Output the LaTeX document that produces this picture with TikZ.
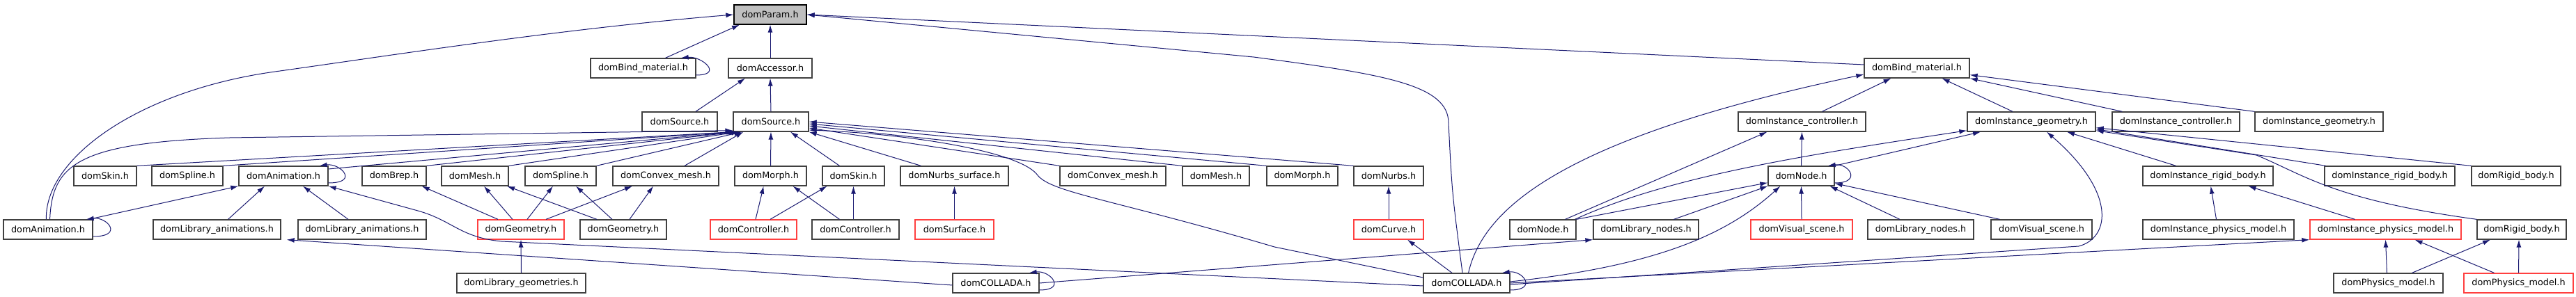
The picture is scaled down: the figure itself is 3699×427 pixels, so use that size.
\documentclass[tikz,border=0pt]{standalone}
\usepackage{fontspec}
\setmainfont{DejaVu Sans}
\usetikzlibrary{arrows.meta}
\definecolor{edgeblue}{HTML}{191970}
\definecolor{boxgray}{HTML}{404040}
\definecolor{boxred}{HTML}{FF4040}
\definecolor{rootgray}{HTML}{BFBFBF}
\tikzset{
  header/.style={draw=boxgray, line width=1.3pt, minimum height=28pt, inner sep=0pt, font=\fontsize{12.8}{15}\selectfont},
  redheader/.style={header, draw=boxred},
  rootheader/.style={header, draw=black, fill=rootgray},
  incl/.style={draw=edgeblue, line width=1pt, -{Latex[length=11pt, width=7pt]}},
}
\begin{document}
\begin{tikzpicture}[x=1pt, y=1pt]
  \useasboundingbox (0,0) rectangle (3699,427);
  % row 0
  \node[rootheader, minimum width=104pt] (param) at (1106,406) {domParam.h};
  % row 1
  \node[header, minimum width=151pt] (bindL) at (923.5,329) {domBind\_material.h};
  \node[header, minimum width=120pt] (access) at (1106,329) {domAccessor.h};
  \node[header, minimum width=151pt] (bindR) at (2752.5,329) {domBind\_material.h};
  % row 2
  \node[header, minimum width=108pt] (srcA) at (976,252) {domSource.h};
  \node[header, minimum width=108pt] (srcB) at (1107,252) {domSource.h};
  \node[header, minimum width=183pt] (ictrlA) at (2587.5,252) {domInstance\_controller.h};
  \node[header, minimum width=184pt] (igeoA) at (2917,252) {domInstance\_geometry.h};
  \node[header, minimum width=183pt] (ictrlB) at (3124.5,252) {domInstance\_controller.h};
  \node[header, minimum width=184pt] (igeoB) at (3330,252) {domInstance\_geometry.h};
  % row 3
  \node[header, minimum width=90pt] (skinA) at (151,174) {domSkin.h};
  \node[header, minimum width=102pt] (splineA) at (269,174) {domSpline.h};
  \node[header, minimum width=128pt] (animA) at (407,174) {domAnimation.h};
  \node[header, minimum width=92pt] (brep) at (566,174) {domBrep.h};
  \node[header, minimum width=96pt] (meshA) at (682,174) {domMesh.h};
  \node[header, minimum width=102pt] (splineB) at (805,174) {domSpline.h};
  \node[header, minimum width=152pt] (cvxA) at (956,174) {domConvex\_mesh.h};
  \node[header, minimum width=103pt] (morphA) at (1106.5,174) {domMorph.h};
  \node[header, minimum width=89pt] (skinB) at (1225.5,174) {domSkin.h};
  \node[header, minimum width=155pt] (nsurf) at (1370.5,174) {domNurbs\_surface.h};
  \node[header, minimum width=152pt] (cvxB) at (1598,174) {domConvex\_mesh.h};
  \node[header, minimum width=96pt] (meshB) at (1746,174) {domMesh.h};
  \node[header, minimum width=102pt] (morphB) at (1870,174) {domMorph.h};
  \node[header, minimum width=100pt] (nurbs) at (1994,174) {domNurbs.h};
  \node[header, minimum width=95pt] (nodeA) at (2586.5,174) {domNode.h};
  \node[header, minimum width=187pt] (irbA) at (3170.5,174) {domInstance\_rigid\_body.h};
  \node[header, minimum width=187pt] (irbB) at (3431.5,174) {domInstance\_rigid\_body.h};
  \node[header, minimum width=128pt] (rbA) at (3613,174) {domRigid\_body.h};
  % row 4
  \node[header, minimum width=128pt] (animB) at (69,97) {domAnimation.h};
  \node[header, minimum width=183pt] (libanA) at (311.5,97) {domLibrary\_animations.h};
  \node[header, minimum width=184pt] (libanB) at (520,97) {domLibrary\_animations.h};
  \node[redheader, minimum width=124pt] (geoA) at (748,97) {domGeometry.h};
  \node[header, minimum width=124pt] (geoB) at (895,97) {domGeometry.h};
  \node[redheader, minimum width=124pt] (ctrlA) at (1082,97) {domController.h};
  \node[header, minimum width=125pt] (ctrlB) at (1228.5,97) {domController.h};
  \node[redheader, minimum width=113pt] (surf) at (1370.5,97) {domSurface.h};
  \node[redheader, minimum width=100pt] (curve) at (1994,97) {domCurve.h};
  \node[header, minimum width=95pt] (nodeB) at (2215.5,97) {domNode.h};
  \node[header, minimum width=151pt] (libndA) at (2363.5,97) {domLibrary\_nodes.h};
  \node[redheader, minimum width=146pt] (visA) at (2587,97) {domVisual\_scene.h};
  \node[header, minimum width=152pt] (libndB) at (2758,97) {domLibrary\_nodes.h};
  \node[header, minimum width=145pt] (visB) at (2931.5,97) {domVisual\_scene.h};
  \node[header, minimum width=217pt] (ipmA) at (3185.5,97) {domInstance\_physics\_model.h};
  \node[redheader, minimum width=217pt] (ipmB) at (3425.5,97) {domInstance\_physics\_model.h};
  \node[header, minimum width=128pt] (rbB) at (3621,97) {domRigid\_body.h};
  % row 5
  \node[header, minimum width=185pt] (libgeo) at (748.5,20) {domLibrary\_geometries.h};
  \node[header, minimum width=124pt] (colA) at (1430,20) {domCOLLADA.h};
  \node[header, minimum width=124pt] (colB) at (2106,20) {domCOLLADA.h};
  \node[header, minimum width=157pt] (physA) at (3429.5,20) {domPhysics\_model.h};
  \node[redheader, minimum width=157pt] (physB) at (3616.5,20) {domPhysics\_model.h};

  % into domParam.h
  \draw[incl] ([xshift=32pt]bindL.north) -- ([xshift=-44pt]param.south);
  \draw[incl] (access.north) -- (param.south);
  \draw[incl] (animB.100) .. controls (64,200) and (200,297) .. (395,324) .. controls (560,347) and (800,385) .. (param.west);
  \draw[incl] ([yshift=5pt]bindR.west) -- (param.east);
  \draw[incl] ([xshift=-6pt]colB.north) .. controls (2085,150) .. (2080,250) .. controls (2080,305) and (1990,320) .. (1800,345) -- (param.east);
  \draw[incl] ([yshift=-10pt]bindL.east) .. controls +(40,0) and +(30,3) .. ([xshift=-22pt]bindL.north east);
  % into domAccessor.h
  \draw[incl] ([xshift=23pt]srcA.north) -- ([xshift=-36pt]access.south);
  \draw[incl] (srcB.north) -- (access.south);
  % into domSource.h
  \draw[incl] (animB.80) .. controls (75,190) and (110,222) .. (330,229) -- ([yshift=2pt]srcB.south west);
  \draw[incl] (skinA.north east) -- ([xshift=1pt]srcB.south west);
  \draw[incl] (splineA.north east) -- ([xshift=3pt]srcB.south west);
  \draw[incl] ([yshift=10pt]animA.east) -- ([xshift=5pt]srcB.south west);
  \draw[incl] (brep.north east) -- ([xshift=7pt]srcB.south west);
  \draw[incl] (meshA.north east) -- ([xshift=9pt]srcB.south west);
  \draw[incl] (splineB.north east) -- ([xshift=13pt]srcB.south west);
  \draw[incl] ([xshift=27pt]cvxA.north) -- ([xshift=15pt]srcB.south west);
  \draw[incl] (morphA.north) -- (srcB.south);
  \draw[incl] ([xshift=-20pt]skinB.north) -- ([xshift=28pt]srcB.south);
  \draw[incl] ([xshift=-48pt]nsurf.north) -- (srcB.south east);
  \draw[incl] (cvxB.north west) -- ([yshift=-9pt]srcB.east);
  \draw[incl] (meshB.north west) -- ([yshift=-6pt]srcB.east);
  \draw[incl] (morphB.north west) -- ([yshift=-3pt]srcB.east);
  \draw[incl] (nurbs.north west) -- (srcB.east);
  \draw[incl] ([yshift=8pt]colB.west) -- (1830,72) .. controls (1600,140) and (1510,150) .. (1490,175) .. controls (1465,210) and (1300,235) .. ([yshift=-12pt]srcB.east);
  % into domAnimation.h
  \draw[incl] ([yshift=-10pt]animA.east) .. controls +(45,0) and +(30,4) .. ([xshift=-13pt]animA.north east);
  \draw[incl] ([yshift=-10pt]animB.east) .. controls +(45,0) and +(30,4) .. ([xshift=-10pt]animB.north east);
  \draw[incl] ([xshift=-6pt]animB.north east) -- (animA.south west);
  \draw[incl] ([xshift=16pt]libanA.north) -- ([xshift=-27pt]animA.south);
  \draw[incl] ([xshift=-20pt]libanB.north) -- ([xshift=28pt]animA.south);
  \draw[incl] ([yshift=-4pt]colB.west) -- (720,80) .. controls (660,86) and (650,110) .. (600,124) -- (animA.south east);
  % domCOLLADA.h (left)
  \draw[incl] ([yshift=-3pt]colA.west) -- ([xshift=8pt]libanA.south east);
  \draw[incl] ([yshift=-10pt]colA.east) .. controls +(40,0) and +(30,4) .. ([xshift=-15pt]colA.north east);
  \draw[incl] (colA.east) -- (libndA.south west);
  % geometry and controller
  \draw[incl] ([xshift=-33pt]geoA.north) -- ([xshift=-7pt]brep.south east);
  \draw[incl] ([xshift=-12pt]geoA.north) -- ([xshift=13pt]meshA.south);
  \draw[incl] ([xshift=9pt]geoA.north) -- ([xshift=-11pt]splineB.south);
  \draw[incl] ([xshift=36pt]geoA.north) -- ([xshift=-48pt]cvxA.south);
  \draw[incl] ([xshift=-38pt]geoB.north) -- ([xshift=46pt]meshA.south);
  \draw[incl] ([xshift=-16pt]geoB.north) -- ([xshift=22pt]splineB.south);
  \draw[incl] ([xshift=9pt]geoB.north) -- ([xshift=-18pt]cvxA.south);
  \draw[incl] (libgeo.north) -- (geoA.south);
  \draw[incl] ([xshift=3pt]ctrlA.north) -- ([xshift=-10pt]morphA.south);
  \draw[incl] ([xshift=24pt]ctrlA.north) -- ([xshift=-38pt]skinB.south);
  \draw[incl] ([xshift=-23pt]ctrlB.north) -- ([xshift=32pt]morphA.south);
  \draw[incl] ([xshift=-3pt]ctrlB.north) -- (skinB.south);
  \draw[incl] (surf.north) -- (nsurf.south);
  \draw[incl] (curve.north) -- (nurbs.south);
  % domCOLLADA.h (right)
  \draw[incl] ([xshift=-21pt]colB.north) -- ([xshift=27pt]curve.south);
  \draw[incl] ([yshift=-10pt]colB.east) .. controls +(40,0) and +(30,4) .. ([xshift=-12pt]colB.north east);
  \draw[incl] (colB.80) .. controls (2130,130) and (2250,230) .. ([yshift=-9pt]bindR.west);
  \draw[incl] ([yshift=2pt]colB.east) .. controls (2380,45) and (2480,90) .. ([xshift=18pt]nodeA.south west);
  \draw[incl] ([yshift=-2pt]colB.east) -- (2985,73) .. controls (3030,85) and (3040,150) .. ([xshift=22pt]igeoA.south);
  \draw[incl] (colB.east) -- (ipmB.south west);
  % into domBind_material.h (right)
  \draw[incl] ([xshift=29pt]ictrlA.north) -- ([xshift=-37pt]bindR.south);
  \draw[incl] ([xshift=-27pt]igeoA.north) -- ([xshift=36pt]bindR.south);
  \draw[incl] ([xshift=15pt]ictrlB.north west) -- (bindR.south east);
  \draw[incl] (igeoB.north west) -- ([yshift=5pt]bindR.south east);
  % domNode.h
  \draw[incl] (nodeA.north) -- (ictrlA.south);
  \draw[incl] (nodeA.north east) -- ([xshift=-73pt]igeoA.south);
  \draw[incl] ([yshift=-10pt]nodeA.east) .. controls +(40,0) and +(30,4) .. ([xshift=-10pt]nodeA.north east);
  \draw[incl] ([xshift=32pt]nodeB.north) -- ([xshift=-50pt]ictrlA.south);
  \draw[incl] ([xshift=46pt]nodeB.north) .. controls (2400,175) and (2600,205) .. ([yshift=2pt]igeoA.south west);
  \draw[incl] (nodeB.north east) -- ([yshift=5pt]nodeA.south west);
  \draw[incl] ([xshift=40pt]libndA.north) -- (nodeA.south west);
  \draw[incl] (visA.north) -- (nodeA.south);
  \draw[incl] ([xshift=-30pt]libndB.north) -- ([xshift=41pt]nodeA.south);
  \draw[incl] ([xshift=-60pt]visB.north) -- ([yshift=4pt]nodeA.south east);
  % into domInstance_geometry.h
  \draw[incl] ([xshift=-46pt]irbA.north) -- ([xshift=51pt]igeoA.south);
  \draw[incl] ([xshift=-92pt]irbB.north) -- ([yshift=4pt]igeoA.south east);
  \draw[incl] (rbA.north west) -- ([yshift=6pt]igeoA.south east);
  \draw[incl] (rbB.north west) .. controls (3350,140) and (3310,175) .. (3240,204) -- ([yshift=2pt]igeoA.south east);
  % physics
  \draw[incl] ([xshift=-3pt]ipmA.north) -- ([xshift=4pt]irbA.south);
  \draw[incl] ([xshift=-44pt]ipmB.north) -- ([xshift=58pt]irbA.south);
  \draw[incl] ([xshift=-2pt]physA.north) -- (ipmB.south);
  \draw[incl] ([xshift=-35pt]physB.north) -- ([xshift=42pt]ipmB.south);
  \draw[incl] ([xshift=34pt]physA.north) -- ([xshift=-45pt]rbB.south);
  \draw[incl] (physB.north) -- ([xshift=-4pt]rbB.south);
\end{tikzpicture}
\end{document}
